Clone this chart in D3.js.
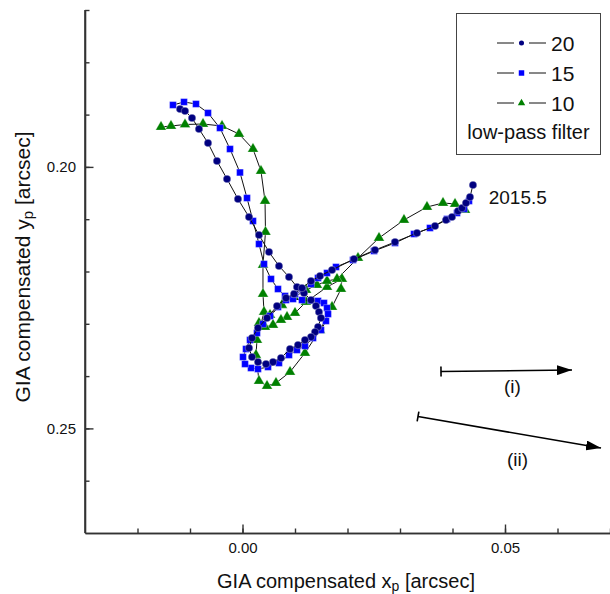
<!DOCTYPE html>
<html><head><meta charset="utf-8">
<script src="https://cdn.jsdelivr.net/npm/d3@7"></script>
<style>
body{margin:0;background:#fff;}
text{font-family:"Liberation Sans",Arial,sans-serif;fill:#111;}
</style></head>
<body>
<svg id="chart" width="610" height="594"></svg>
<script>
// low-pass filter 20 (navy circles)
const s20x = [-0.0119,-0.01095,-0.00962,-0.00829,-0.00657,-0.00486,-0.00295,-0.00086,0.00124,0.00314,0.00505,0.00695,0.00886,0.01038,0.01171,0.01305,0.0140,0.01457,0.01495,0.01438,0.01381,0.01305,0.0119,0.01057,0.00905,0.00733,0.00581,0.00448,0.00295,0.00181,0.00124,0.00181,0.00295,0.00467,0.00657,0.00829,0.00981,0.01133,0.01305,0.01476,0.01705,0.02124,0.02524,0.02905,0.03324,0.03667,0.03876,0.0399,0.04105,0.04181,0.04257,0.04333,0.0439];
const s20y = [0.18893,0.18931,0.19065,0.19275,0.19543,0.19887,0.20231,0.20614,0.20958,0.21302,0.21627,0.21895,0.22105,0.22296,0.22411,0.22545,0.2266,0.22774,0.22889,0.23061,0.23157,0.23252,0.2331,0.23405,0.23482,0.23654,0.2373,0.23769,0.2373,0.23635,0.23463,0.23272,0.2308,0.22889,0.2266,0.22507,0.2243,0.22315,0.22182,0.22086,0.21971,0.21761,0.21589,0.21436,0.21264,0.2113,0.21015,0.20958,0.20843,0.20786,0.2069,0.20576,0.20346];
// low-pass filter 15 (blue squares)
const s15x = [-0.01324,-0.01114,-0.00886,-0.00657,-0.00429,-0.00238,-0.00048,0.00086,0.002,0.00314,0.0041,0.00543,0.00676,0.0081,0.00962,0.01133,0.01305,0.01438,0.01552,0.0161,0.01629,0.0159,0.01495,0.01343,0.0119,0.01038,0.00886,0.00695,0.00486,0.00295,0.00162,0.00048,0.0001,0.00067,0.00143,0.00276,0.0039,0.00524,0.00676,0.00829,0.01,0.01152,0.01305,0.01438,0.0161,0.01781,0.02105,0.02505,0.02905,0.03267,0.03571,0.03895,0.04086,0.04219,0.04314];
const s15y = [0.18816,0.18759,0.18797,0.18969,0.19256,0.19658,0.20107,0.20595,0.21034,0.21474,0.21857,0.22143,0.22335,0.22468,0.22526,0.22545,0.22554,0.22564,0.22602,0.22698,0.22813,0.22946,0.23119,0.23272,0.23424,0.23501,0.23597,0.2375,0.23826,0.23864,0.23845,0.23769,0.23635,0.23482,0.2331,0.23176,0.23004,0.22851,0.22679,0.22545,0.2243,0.22354,0.22239,0.22124,0.22029,0.21914,0.2178,0.21608,0.21455,0.21283,0.21168,0.20996,0.20881,0.20805,0.20652];
// low-pass filter 10 (green triangles)
const s10x = [-0.01552,-0.01362,-0.01095,-0.00752,-0.0039,-0.00067,0.002,0.00352,0.00429,0.00438,0.0039,0.0039,0.0041,0.00276,0.00257,0.00314,0.00467,0.00638,0.00905,0.0119,0.01476,0.01705,0.01876,0.01895,0.0161,0.0121,0.01,0.00848,0.00733,0.00581,0.00429,0.00314,0.00524,0.00752,0.00981,0.0121,0.01419,0.0161,0.018,0.022,0.026,0.03076,0.03514,0.03819,0.04048,0.04238];
const s10y = [0.19237,0.19218,0.19189,0.1918,0.19218,0.19371,0.19658,0.20078,0.20652,0.21245,0.21876,0.2243,0.22774,0.2331,0.23597,0.24094,0.24189,0.24132,0.23922,0.23558,0.23119,0.22679,0.22335,0.22143,0.22296,0.22583,0.22793,0.2287,0.22927,0.23023,0.23061,0.22985,0.22832,0.22641,0.22488,0.22354,0.22258,0.22182,0.22143,0.21742,0.21359,0.21015,0.20767,0.2069,0.20709,0.20824];

const seriesNames = ["20","15","10"];
const seriesColors = ["#000080","#0000ff","#008000"];
const xMajorTicks = [0.00, 0.05];
const xMinorTicks = [-0.02,-0.01,0.00,0.01,0.02,0.03,0.04,0.05,0.06,0.07];
const yMajorTicks = [0.20, 0.25];
const yMinorTicks = [0.17,0.18,0.19,0.20,0.21,0.22,0.23,0.24,0.25,0.26];
const endLabel = {text:"2015.5", x:0.0469, y:0.20715};
const arrowLabels = ["(i)","(ii)"];
const arrowStartX = [0.03781, 0.03343];
const arrowStartY = [0.23912, 0.24772];
const arrowEndX = [0.06276, 0.06829];
const arrowEndY = [0.23883, 0.25375];

const svg = d3.select("#chart");
const x = d3.scaleLinear().domain([-0.03, 0.07]).range([85, 610]);
const y = d3.scaleLinear().domain([0.17, 0.27]).range([10, 533]);

// axes
const fmt = d3.format(".2f");
const yMinor = svg.append("g").attr("transform","translate(85,0)")
  .call(d3.axisLeft(y).tickValues(yMinorTicks).tickSizeInner(-4.5).tickSizeOuter(0).tickFormat(""));
const yMajor = svg.append("g").attr("transform","translate(85,0)")
  .call(d3.axisLeft(y).tickValues(yMajorTicks).tickSizeInner(-8.5).tickSizeOuter(0).tickPadding(9).tickFormat(fmt));
const xMinor = svg.append("g").attr("transform","translate(0,533)")
  .call(d3.axisBottom(x).tickValues(xMinorTicks).tickSizeInner(-4.5).tickSizeOuter(0).tickFormat(""));
const xMajor = svg.append("g").attr("transform","translate(0,533)")
  .call(d3.axisBottom(x).tickValues(xMajorTicks).tickSizeInner(-8.5).tickSizeOuter(0).tickPadding(9).tickFormat(fmt));
svg.selectAll(".domain").attr("stroke","#333").attr("stroke-width",1.6);
svg.selectAll(".tick line").attr("stroke","#333").attr("stroke-width",1.4);
svg.selectAll(".tick text").style("font-family","Liberation Sans, Arial, sans-serif").style("font-size","15px").attr("fill","#222");
yMajor.select(".domain").attr("d", `M0,${y(0.17)}V${y(0.27)}`);

// axis titles
const xt = svg.append("text").attr("x",346).attr("y",588).attr("text-anchor","middle").style("font-size","20px");
xt.append("tspan").text("GIA compensated x");
xt.append("tspan").text("p").style("font-size","14px").attr("dy",3);
xt.append("tspan").text(" [arcsec]").style("font-size","20px").attr("dy",-3);
const yt = svg.append("text").attr("transform","translate(30,267) rotate(-90)").attr("text-anchor","middle").style("font-size","21px");
yt.append("tspan").text("GIA compensated y");
yt.append("tspan").text("p").style("font-size","15px").attr("dy",3);
yt.append("tspan").text(" [arcsec]").style("font-size","21px").attr("dy",-3);

// series
const series = [
  {name:"20", xs:s20x, ys:s20y, color:seriesColors[0], shape:d3.symbolCircle, size:46, lsize:20},
  {name:"15", xs:s15x, ys:s15y, color:seriesColors[1], shape:d3.symbolSquare, size:46, lsize:30},
  {name:"10", xs:s10x, ys:s10y, color:seriesColors[2], shape:d3.symbolTriangle, size:50, lsize:24}
];
const line = d3.line().x(d=>x(d[0])).y(d=>y(d[1]));
const drawOrder = [2,1,0];
drawOrder.forEach(i=>{
  const s = series[i];
  const pts = s.xs.map((v,j)=>[v, s.ys[j]]);
  svg.append("path").datum(pts).attr("d",line).attr("fill","none").attr("stroke","#111").attr("stroke-width",1);
  svg.append("g").selectAll("path").data(pts).join("path")
    .attr("transform",d=>`translate(${x(d[0])},${y(d[1])})`)
    .attr("d",d3.symbol().type(s.shape).size(s.size))
    .attr("fill",s.color).attr("stroke","#ffffff").attr("stroke-opacity",0.5).attr("stroke-width",0.6);
});

// end label
svg.append("text").attr("x",x(endLabel.x)).attr("y",y(endLabel.y)).style("font-size","19px").text(endLabel.text);

// arrows
const defs = svg.append("defs");
defs.append("marker").attr("id","ah").attr("viewBox","0 0 15 10").attr("refX",15).attr("refY",5)
  .attr("markerWidth",15).attr("markerHeight",10).attr("markerUnits","userSpaceOnUse").attr("orient","auto")
  .append("path").attr("d","M0,0L15,5L0,10Z").attr("fill","#000");
arrowLabels.forEach((lab,i)=>{
  const x0=x(arrowStartX[i]), y0=y(arrowStartY[i]), x1=x(arrowEndX[i]), y1=y(arrowEndY[i]);
  svg.append("line").attr("x1",x0).attr("y1",y0).attr("x2",x1).attr("y2",y1)
    .attr("stroke","#000").attr("stroke-width",1.6).attr("marker-end","url(#ah)");
  const ang = Math.atan2(y1-y0,x1-x0);
  const nx=-Math.sin(ang)*5, ny=Math.cos(ang)*5;
  svg.append("line").attr("x1",x0-nx).attr("y1",y0-ny).attr("x2",x0+nx).attr("y2",y0+ny)
    .attr("stroke","#000").attr("stroke-width",1.6);
  svg.append("text").attr("x",(x0+x1)/2 + (i===0?6:8)).attr("y",(y0+y1)/2 + (i===0?22:34))
    .attr("text-anchor","middle").style("font-size","19px").text(lab);
});

// legend
const lg = svg.append("g");
lg.append("rect").attr("x",456.5).attr("y",13.5).attr("width",144).attr("height",141)
  .attr("fill","#fff").attr("stroke","#444").attr("stroke-width",1);
const rowY = [43,73,103];
series.forEach((s,i)=>{
  lg.append("line").attr("x1",497).attr("x2",514).attr("y1",rowY[i]).attr("y2",rowY[i]).attr("stroke","#111").attr("stroke-width",1);
  lg.append("line").attr("x1",529).attr("x2",546).attr("y1",rowY[i]).attr("y2",rowY[i]).attr("stroke","#111").attr("stroke-width",1);
  lg.append("path").attr("transform",`translate(521.5,${rowY[i]})`)
    .attr("d",d3.symbol().type(s.shape).size(s.lsize)).attr("fill",s.color);
  lg.append("text").attr("x",551).attr("y",rowY[i]+7.5).style("font-size","21px").text(seriesNames[i]);
});
lg.append("text").attr("x",528.5).attr("y",139).attr("text-anchor","middle").style("font-size","20px").text("low-pass filter");
</script>
</body></html>
